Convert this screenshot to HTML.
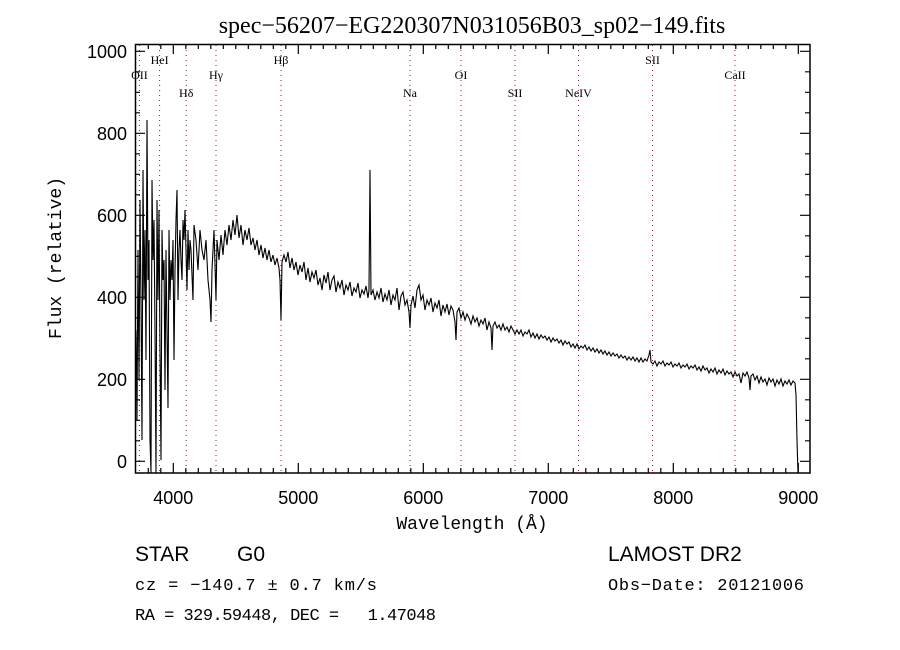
<!DOCTYPE html>
<html><head><meta charset="utf-8"><style>body{margin:0;background:#fff}svg{display:block}</style></head>
<body>
<svg width="900" height="650" xmlns="http://www.w3.org/2000/svg" font-family="Liberation Serif, serif">
<rect width="900" height="650" fill="#fff"/>
<text x="472" y="33" font-size="24" text-anchor="middle">spec−56207−EG220307N031056B03_sp02−149.fits</text>
<g stroke="#8b2020" stroke-dasharray="1,4" stroke-width="1">
<line x1="139.4" x2="139.4" y1="45" y2="473"/><line x1="159.6" x2="159.6" y1="45" y2="473"/>
<line x1="186.2" x2="186.2" y1="45" y2="473"/><line x1="216" x2="216" y1="45" y2="473"/>
<line x1="281" x2="281" y1="45" y2="473"/><line x1="410" x2="410" y1="45" y2="473"/>
<line x1="461" x2="461" y1="45" y2="473"/><line x1="515" x2="515" y1="45" y2="473"/>
<line x1="578.5" x2="578.5" y1="45" y2="473"/><line x1="652.5" x2="652.5" y1="45" y2="473"/>
<line x1="735" x2="735" y1="45" y2="473"/>
</g>
<g font-size="12" text-anchor="middle">
<text x="139.4" y="79">OII</text><text x="159.6" y="64">HeI</text><text x="186.2" y="97">Hδ</text>
<text x="216" y="79">Hγ</text><text x="281" y="64">Hβ</text><text x="410" y="97">Na</text>
<text x="461" y="79">OI</text><text x="515" y="97">SII</text><text x="578.5" y="97">NeIV</text>
<text x="652.5" y="64">SII</text><text x="735" y="79">CaII</text>
</g>
<polyline fill="none" stroke="#000" stroke-width="1.1" points="136,330 137,420 138,250 139,380 140,200 141,300 142,440 143,170 144,300 145,230 146,360 147,120 148,280 149,240 150,440 151,473 152,180 153,260 154,220 155,330 156,473 157,200 158,300 159,210 160,350 161,460 162,230 163,280 164,260 165,390 166,250 167,330 168,408 169,230 170,300 171,260 172,280 173,240 174,360 175,270 176,220 177,190 178,300 179,250 180,230 181,260 182,280 183,220 184,240 185,210 186,250 187,290 188,230 189,270 190,240 191,250 193,300 194,225 196,240 198,270 200,230 202,250 204,260 206,240 208,280 210,300 211,322 212,270 214,230 216,300 217,240 219,260 221,235 223,255 225,230 227,245 229,225 231,240 233,220 235,235 237,215 239,238 241,225 243,245 245,230 247,240 249,228 251,245 253,238 255,250 257,240 259,255 261,245 263,258 265,248 267,260 269,250 271,262 273,255 275,265 277,258 279,268 280,280 281,320 282,262 284,255 286,262 288,252 290,268 292,258 294,270 296,262 298,275 300,265 302,272 304,262 306,280 308,268 310,282 312,272 314,278 316,270 318,285 320,278 322,290 324,275 326,283 328,272 330,290 332,280 334,276 336,292 338,282 340,288 342,280 344,295 346,285 348,290 350,282 352,296 354,288 356,292 358,283 360,298 362,290 364,294 366,286 368,298 369,290 370,170 371,295 373,290 375,300 377,292 379,298 381,288 383,302 385,294 387,300 389,290 391,305 393,295 395,300 397,288 399,310 401,296 403,292 405,305 407,300 409,312 410,328 411,305 413,296 415,308 417,290 419,285 421,300 423,295 425,310 427,300 429,305 431,298 433,312 435,303 437,308 439,300 441,316 443,305 445,312 447,304 449,315 451,306 453,310 455,322 456,340 457,312 459,308 461,318 463,312 465,320 467,314 469,318 471,324 473,316 475,322 477,318 479,326 481,320 483,324 485,318 487,330 489,322 491,328 492,350 493,326 495,322 497,328 499,325 501,330 503,324 505,330 507,327 509,332 511,326 513,330 515,334 517,330 519,334 521,330 523,336 525,332 527,334 529,330 531,337 533,333 535,338 537,334 539,339 541,335 543,338 545,336 547,340 549,337 551,342 553,338 555,341 557,339 559,343 561,340 563,345 565,341 567,344 569,342 571,347 573,344 575,348 577,344 579,349 581,346 583,348 585,345 587,350 589,347 591,351 593,348 595,352 597,349 599,353 601,350 603,354 605,351 607,355 609,352 611,356 613,353 615,356 617,354 619,358 621,355 623,358 625,356 627,360 629,357 631,360 633,357 635,361 637,358 639,362 641,358 643,362 645,359 647,361 649,355 650,350 651,362 653,364 655,361 657,366 659,362 661,364 663,361 665,366 667,363 669,365 671,362 673,367 675,364 677,366 679,363 681,368 683,365 685,367 687,364 689,369 691,366 693,368 695,365 697,370 699,367 701,371 703,366 705,370 707,368 709,373 711,369 713,372 715,368 717,374 719,370 721,373 723,369 725,375 727,371 729,374 731,372 733,377 735,372 737,376 739,374 741,383 743,373 745,376 747,372 749,378 750,390 751,376 753,374 755,380 757,376 759,383 761,377 763,382 765,379 767,385 769,378 771,382 773,379 775,386 777,380 779,384 781,379 783,386 785,381 787,384 789,380 791,385 793,381 795,383 796,395 797,440 798,473"/>
<rect x="135.5" y="44.5" width="674.5" height="428.5" fill="none" stroke="#000" stroke-width="1.5"/>
<g stroke="#000" stroke-width="1.2" fill="none">
<path d="M148.3,473v-5m12.5,5v-5m25,5v-5m12.5,5v-5m12.5,5v-5m12.5,5v-5m12.5,5v-5m12.5,5v-5m12.5,5v-5m12.5,5v-5m12.5,5v-5m25,5v-5m12.5,5v-5m12.5,5v-5m12.5,5v-5m12.5,5v-5m12.5,5v-5m12.5,5v-5m12.5,5v-5m12.5,5v-5m25,5v-5m12.5,5v-5m12.5,5v-5m12.5,5v-5m12.5,5v-5m12.5,5v-5m12.5,5v-5m12.5,5v-5m12.5,5v-5m25,5v-5m12.5,5v-5m12.5,5v-5m12.5,5v-5m12.5,5v-5m12.5,5v-5m12.5,5v-5m12.5,5v-5m12.5,5v-5m25,5v-5m12.5,5v-5m12.5,5v-5m12.5,5v-5m12.5,5v-5m12.5,5v-5m12.5,5v-5m12.5,5v-5m12.5,5v-5"/>
<path d="M148.3,44v5m12.5,-5v5m25,-5v5m12.5,-5v5m12.5,-5v5m12.5,-5v5m12.5,-5v5m12.5,-5v5m12.5,-5v5m12.5,-5v5m12.5,-5v5m25,-5v5m12.5,-5v5m12.5,-5v5m12.5,-5v5m12.5,-5v5m12.5,-5v5m12.5,-5v5m12.5,-5v5m12.5,-5v5m25,-5v5m12.5,-5v5m12.5,-5v5m12.5,-5v5m12.5,-5v5m12.5,-5v5m12.5,-5v5m12.5,-5v5m12.5,-5v5m25,-5v5m12.5,-5v5m12.5,-5v5m12.5,-5v5m12.5,-5v5m12.5,-5v5m12.5,-5v5m12.5,-5v5m12.5,-5v5m25,-5v5m12.5,-5v5m12.5,-5v5m12.5,-5v5m12.5,-5v5m12.5,-5v5m12.5,-5v5m12.5,-5v5m12.5,-5v5"/>
<path d="M173.3,473v-10M298.3,473v-10M423.3,473v-10M548.3,473v-10M673.3,473v-10M798.3,473v-10M173.3,44v10M298.3,44v10M423.3,44v10M548.3,44v10M673.3,44v10M798.3,44v10"/>
<path d="M135,461.3h10M135,379.3h10M135,297.3h10M135,215.3h10M135,133.3h10M135,51.3h10M810,461.3h-10M810,379.3h-10M810,297.3h-10M810,215.3h-10M810,133.3h-10M810,51.3h-10"/>
<path d="M135,440.8h5M135,420.3h5M135,399.8h5M135,358.8h5M135,338.3h5M135,317.8h5M135,276.8h5M135,256.3h5M135,235.8h5M135,194.8h5M135,174.3h5M135,153.8h5M135,112.8h5M135,92.3h5M135,71.8h5M810,440.8h-5M810,420.3h-5M810,399.8h-5M810,358.8h-5M810,338.3h-5M810,317.8h-5M810,276.8h-5M810,256.3h-5M810,235.8h-5M810,194.8h-5M810,174.3h-5M810,153.8h-5M810,112.8h-5M810,92.3h-5M810,71.8h-5"/>
</g>
<g font-family="Liberation Sans, sans-serif" font-size="18" text-anchor="middle">
<text x="173.3" y="504">4000</text><text x="298.3" y="504">5000</text><text x="423.3" y="504">6000</text>
<text x="548.3" y="504">7000</text><text x="673.3" y="504">8000</text><text x="798.3" y="504">9000</text>
</g>
<g font-family="Liberation Sans, sans-serif" font-size="18" text-anchor="end">
<text x="127" y="468">0</text><text x="127" y="386">200</text><text x="127" y="304">400</text>
<text x="127" y="222">600</text><text x="127" y="140">800</text><text x="127" y="58">1000</text>
</g>
<text x="472" y="529" font-size="18" text-anchor="middle" font-family="Liberation Mono, monospace">Wavelength (Å)</text>
<text transform="translate(61,258) rotate(-90)" font-size="18" text-anchor="middle" font-family="Liberation Mono, monospace">Flux (relative)</text>
<g font-family="Liberation Sans, sans-serif" font-size="21">
<text x="135" y="561">STAR</text><text x="237" y="561">G0</text>
<text x="608" y="561">LAMOST DR2</text></g>
<g font-size="17" font-family="Liberation Mono, monospace">
<text x="135" y="590" textLength="242">cz = −140.7 ± 0.7 km/s</text>
<text x="608" y="590" textLength="196">Obs−Date: 20121006</text>
<text x="135" y="620" xml:space="preserve" textLength="301">RA = 329.59448, DEC =   1.47048</text></g>
</svg>
</body></html>
